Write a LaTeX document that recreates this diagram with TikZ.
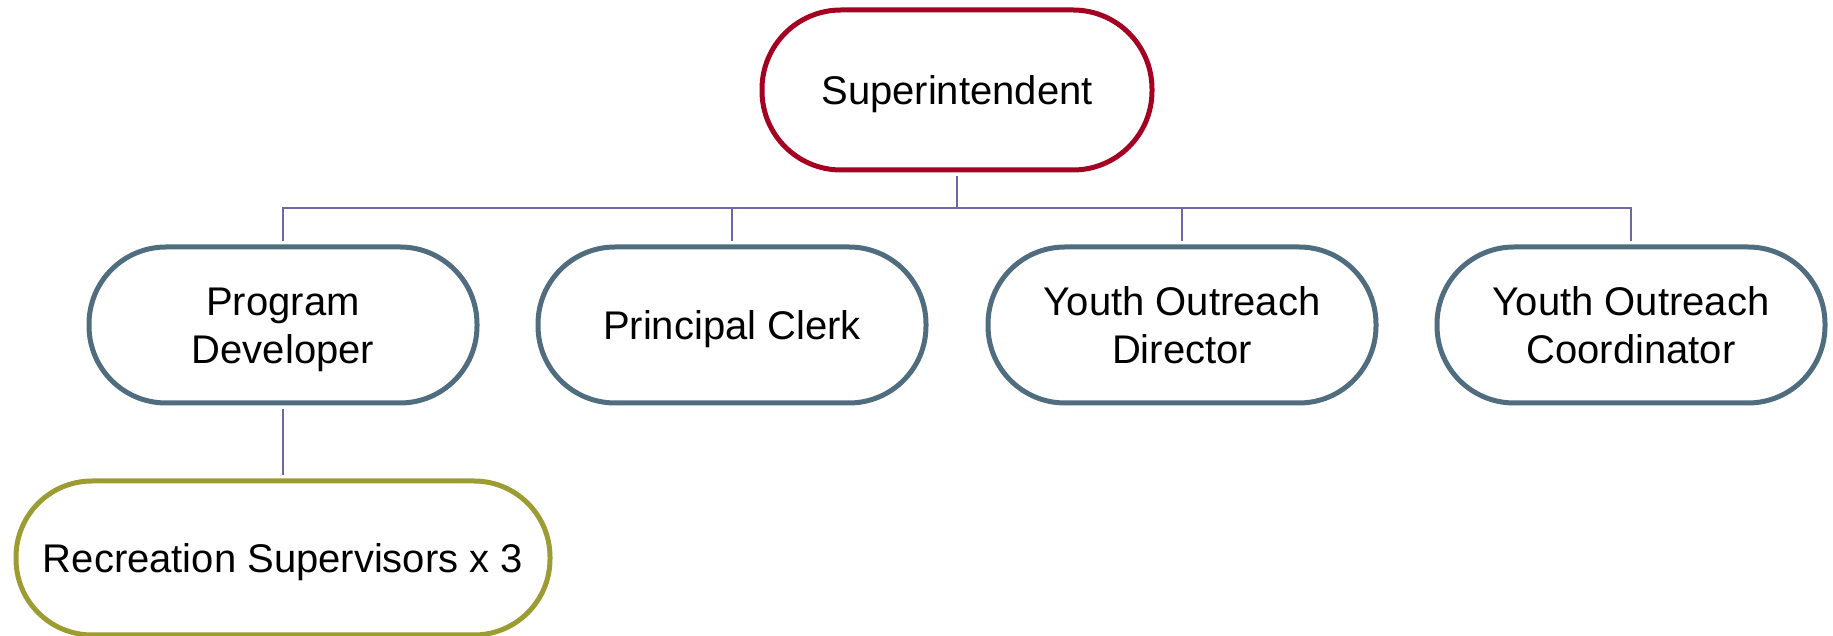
\documentclass[tikz,border=0pt]{standalone}
\usepackage{fontspec}
\setmainfont{Liberation Sans}
\usetikzlibrary{positioning}
\definecolor{supred}{HTML}{A50021}
\definecolor{staffblue}{HTML}{4F6D7F}
\definecolor{recolive}{HTML}{9C9C33}
\definecolor{linkline}{HTML}{6A6AA0}
\newcommand{\postname}[1]{\raisebox{-5pt}[\height][\depth]{\begin{tabular}{@{}c@{}}#1\end{tabular}}}
\tikzset{
	post/.style={draw, line width=5pt, fill=white, rounded corners=77pt, minimum width=388pt, minimum height=156pt, font=\fontsize{40}{48}\selectfont, inner sep=0pt},
	link/.style={draw=linkline, line width=1.6pt, shorten <=3.5pt, shorten >=3.5pt}
}
\begin{document}
\begin{tikzpicture}[x=1pt, y=1pt]
			%%%%% START %%%%%
			
			\useasboundingbox (0, 0) rectangle (1833, 636);
			
			\node[post, draw=supred, minimum width=390pt, minimum height=160pt, rounded corners=79pt] (sup) at (957, 546) {\postname{Superintendent}};
			
			\node[post, draw=staffblue] (pd) at (283, 311) {\postname{Program\\Developer}};
			\node[post, draw=staffblue] (pc) at (732, 311) {\postname{Principal Clerk}};
			\node[post, draw=staffblue] (yod) at (1182, 311) {\postname{Youth Outreach\\Director}};
			\node[post, draw=staffblue] (yoc) at (1631, 311) {\postname{Youth Outreach\\Coordinator}};
			
			\node[post, draw=recolive, minimum width=534pt, minimum height=154pt, rounded corners=76pt] (rec) at (283, 78) {\postname{Recreation Supervisors x 3}};
			
			\coordinate (bus) at (957, 428);
			\draw[link, shorten >=0pt] (sup.south) -- (bus);
			\foreach \n in {pd, pc, yod, yoc}
				\draw[link, shorten <=0pt] (bus) -| (\n.north);
			
			\draw[link] (pd) -- (rec);
			
			%%%%% END %%%%%
\end{tikzpicture}
\end{document}
